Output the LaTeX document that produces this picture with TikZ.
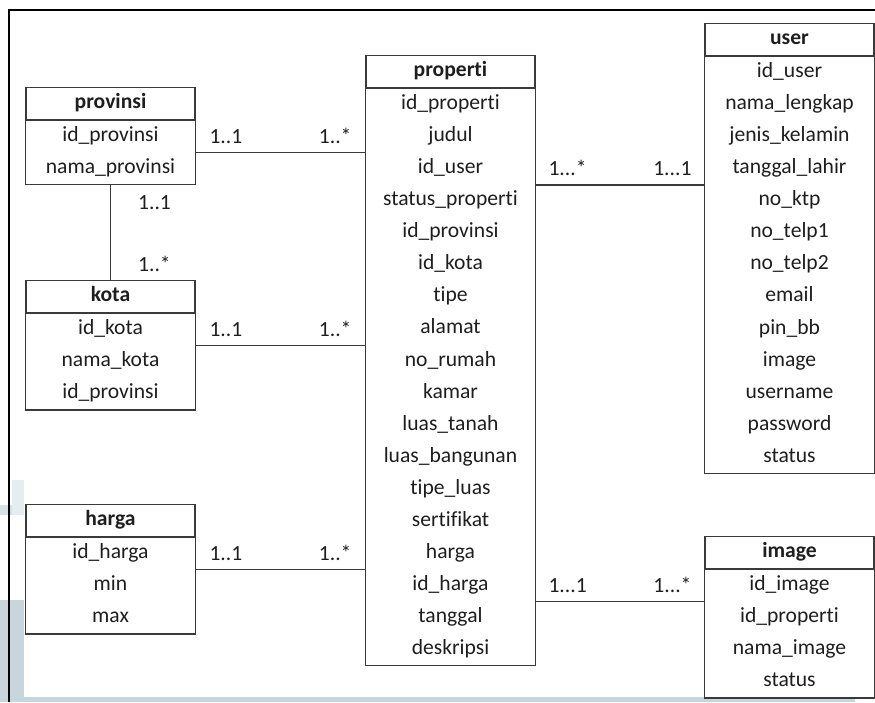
\documentclass[tikz,border=0pt]{standalone}
\usepackage{fontspec}
\setmainfont{Carlito}[Ligatures={NoCommon,NoRequired,NoContextual}]
\usetikzlibrary{calc,fit}
\definecolor{ink}{HTML}{1E1E1E}
\definecolor{edge}{HTML}{3A3A3A}
\definecolor{bgblue}{HTML}{C6D6DC}
\definecolor{bgpale}{HTML}{E4EDF0}
\tikzset{
  hdr/.style={draw=edge, line width=1.3pt, minimum width=169pt, minimum height=32pt, inner sep=0pt,
    text height=14.5pt, text depth=4.5pt,
    font=\fontsize{21.6}{25}\selectfont\bfseries, text=ink},
  rowtxt/.style={minimum width=169pt, minimum height=32.06pt, inner sep=0pt,
    text height=14.5pt, text depth=4.5pt,
    font=\fontsize{21.6}{25}\selectfont, text=ink},
  body/.style={draw=edge, line width=1.3pt, inner sep=0pt},
  link/.style={draw=edge, line width=1.3pt},
  mult/.style={font=\fontsize{21.6}{25}\selectfont, text=ink, inner sep=0pt},
}
% #1 name, #2 top-centre coordinate, #3 number of rows, #4 title, #5 rows
\newcommand\erdtab[5]{%
  \node[hdr, anchor=north] (#1-h) at (#2) {#4};
  \foreach \t [count=\i] in {#5} {
    \node[rowtxt, anchor=north] (#1-\i) at ($(#1-h.south)+(0,{(\i-1)*32.06})$) {\t};
  }
  \node[body, fit=(#1-1)(#1-#3)] (#1) {};
}
\begin{document}
\begin{tikzpicture}[x=1pt,y=-1pt]
\useasboundingbox (0,0) rectangle (875,702);
% background remnants
\fill[bgblue] (0,600) rectangle (24,702);
\fill[bgpale] (12,480) rectangle (24,515);
\fill[bgblue!70] (0,505) rectangle (12,515);
\fill[bgblue] (24,697) rectangle (855,702);
% frame
\draw[black, line width=2pt] (875,10) -- (9,10) -- (9,702);

\erdtab{provinsi}{110.5,87}{2}{provinsi}{id\_provinsi,nama\_provinsi}
\erdtab{kota}{110.5,280}{3}{kota}{id\_kota,nama\_kota,id\_provinsi}
\erdtab{harga}{110.5,504}{3}{harga}{id\_harga,min,max}
\erdtab{properti}{450.5,55}{18}{properti}{id\_properti,judul,id\_user,status\_properti,id\_provinsi,id\_kota,tipe,alamat,no\_rumah,kamar,luas\_tanah,luas\_bangunan,tipe\_luas,sertifikat,harga,id\_harga,tanggal,deskripsi}
\erdtab{user}{789.5,23}{13}{user}{id\_user,nama\_lengkap,jenis\_kelamin,tanggal\_lahir,no\_ktp,no\_telp1,no\_telp2,email,pin\_bb,image,username,password,status}
\erdtab{image}{789.5,536}{4}{image}{id\_image,id\_properti,nama\_image,status}

% provinsi - properti
\draw[link] (provinsi.east |- provinsi-1.south) -- (properti.west |- provinsi-1.south)
  node[mult, pos=0, anchor=base west, xshift=13pt, yshift=9pt] {1..1}
  node[mult, pos=1, anchor=base east, xshift=-13pt, yshift=9pt] {1..*};
% kota - properti
\draw[link] (kota.east |- kota-1.south) -- (properti.west |- kota-1.south)
  node[mult, pos=0, anchor=base west, xshift=13pt, yshift=9pt] {1..1}
  node[mult, pos=1, anchor=base east, xshift=-13pt, yshift=9pt] {1..*};
% harga - properti
\draw[link] (harga.east |- harga-1.south) -- (properti.west |- harga-1.south)
  node[mult, pos=0, anchor=base west, xshift=13pt, yshift=9pt] {1..1}
  node[mult, pos=1, anchor=base east, xshift=-13pt, yshift=9pt] {1..*};
% properti - user
\draw[link] (properti.east |- properti-3.south) -- (user.west |- properti-3.south)
  node[mult, pos=0, anchor=base west, xshift=12pt, yshift=9pt] {1...*}
  node[mult, pos=1, anchor=base east, xshift=-12pt, yshift=9pt] {1...1};
% properti - image
\draw[link] (properti.east |- image-1.south) -- (image.west |- image-1.south)
  node[mult, pos=0, anchor=base west, xshift=12pt, yshift=9pt] {1...1}
  node[mult, pos=1, anchor=base east, xshift=-12pt, yshift=9pt] {1...*};
% provinsi - kota
\draw[link] (provinsi.south) -- (kota-h.north)
  node[mult, pos=0, anchor=base west, xshift=27pt, yshift=-24pt] {1..1}
  node[mult, pos=1, anchor=base west, xshift=27pt, yshift=9pt] {1..*};
\end{tikzpicture}
\end{document}
